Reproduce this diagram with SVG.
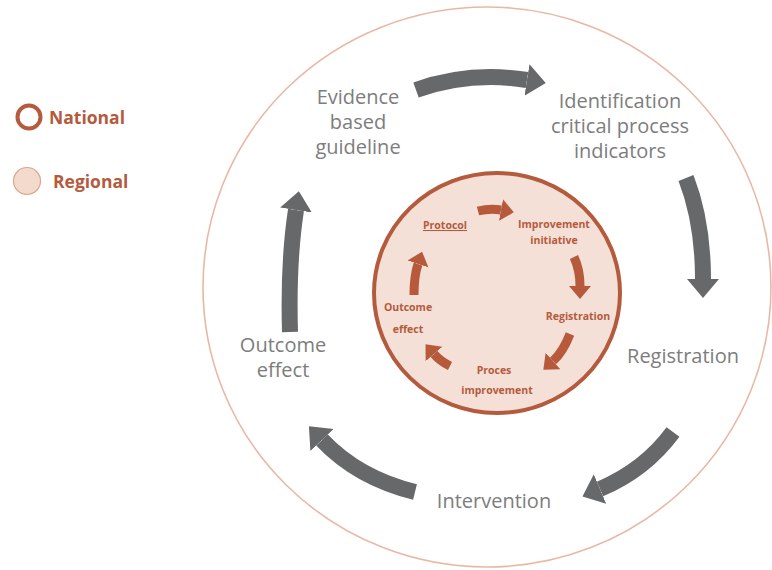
<svg xmlns="http://www.w3.org/2000/svg" width="772" height="570" viewBox="0 0 772 570">
  <style>
    .outer-label { font-family: "Open Sans", "Noto Sans", "DejaVu Sans", sans-serif; font-size: 20px; fill: #7d7d7d; text-anchor: middle; }
    .inner-label { font-family: "Open Sans", "Noto Sans", "DejaVu Sans", sans-serif; font-size: 10.5px; font-weight: bold; fill: #b45b3d; text-anchor: middle; }
    .legend-label { font-family: "Open Sans", "Noto Sans", "DejaVu Sans", sans-serif; font-size: 17.5px; font-weight: bold; fill: #b45b3d; }
    .grey-arrow { fill: none; stroke: #66686a; stroke-width: 16; stroke-linecap: butt; }
    .rust-arrow { fill: none; stroke: #b65a3b; stroke-width: 9; stroke-linecap: butt; }
  </style>
  <defs>
    <marker id="head-grey" markerUnits="userSpaceOnUse" markerWidth="22" markerHeight="34" refX="0" refY="17" orient="auto">
      <path d="M0,1 L19,17 L0,33 Z" fill="#66686a"/>
    </marker>
    <marker id="head-rust" markerUnits="userSpaceOnUse" markerWidth="14" markerHeight="24" refX="0" refY="12" orient="auto">
      <path d="M0,1 L13,12 L0,23 Z" fill="#b65a3b"/>
    </marker>
  </defs>

  <rect width="772" height="570" fill="#ffffff"/>

  <!-- legend -->
  <g id="legend">
    <g id="legend-national">
      <circle cx="29" cy="117" r="11.5" fill="none" stroke="#b45b3d" stroke-width="4"/>
      <text class="legend-label" x="49" y="124">National</text>
    </g>
    <g id="legend-regional">
      <circle cx="27" cy="181" r="13.5" fill="#f4dacd" stroke="#dba690" stroke-width="1.2"/>
      <text class="legend-label" x="53" y="188">Regional</text>
    </g>
  </g>

  <!-- national ring (outer) and regional disc (inner) -->
  <g id="ring-national">
    <ellipse cx="487" cy="287" rx="284" ry="280" fill="none" stroke="#e9b8a4" stroke-width="1.6"/>
  </g>
  <g id="disc-regional">
    <ellipse cx="497" cy="293" rx="123" ry="120" fill="#f4e0d6" stroke="#b45b3d" stroke-width="4"/>
  </g>

  <!-- outer cycle labels -->
  <g id="evidence">
    <text class="outer-label" x="358" y="104">Evidence</text>
    <text class="outer-label" x="358" y="129">based</text>
    <text class="outer-label" x="358" y="154">guideline</text>
  </g>
  <g id="identification">
    <text class="outer-label" x="620" y="108">Identification</text>
    <text class="outer-label" x="620" y="133">critical process</text>
    <text class="outer-label" x="620" y="158">indicators</text>
  </g>
  <g id="registration">
    <text class="outer-label" x="683" y="363">Registration</text>
  </g>
  <g id="intervention">
    <text class="outer-label" x="494" y="508">Intervention</text>
  </g>
  <g id="outcome">
    <text class="outer-label" x="283" y="352">Outcome</text>
    <text class="outer-label" x="283" y="377">effect</text>
  </g>

  <!-- inner cycle labels -->
  <g id="protocol">
    <text class="inner-label" x="445" y="229" text-decoration="underline">Protocol</text>
  </g>
  <g id="improvement-initiative">
    <text class="inner-label" x="554" y="228">Improvement</text>
    <text class="inner-label" x="554" y="244">initiative</text>
  </g>
  <g id="inner-registration">
    <text class="inner-label" x="578" y="320">Registration</text>
  </g>
  <g id="proces-improvement">
    <text class="inner-label" x="494" y="374">Proces</text>
    <text class="inner-label" x="497" y="394">improvement</text>
  </g>
  <g id="inner-outcome">
    <text class="inner-label" x="408" y="311">Outcome</text>
    <text class="inner-label" x="408" y="333">effect</text>
  </g>

  <!-- connectors -->
  <g id="connectors">
    <path class="grey-arrow" d="M416,90 Q470,71 527,80" marker-end="url(#head-grey)"/>
    <path class="grey-arrow" d="M686,178 Q703,222 703,279" marker-end="url(#head-grey)"/>
    <path class="grey-arrow" d="M673,432 Q645,470 600,489" marker-end="url(#head-grey)"/>
    <path class="grey-arrow" d="M415,492 Q358,478 322,440" marker-end="url(#head-grey)"/>
    <path class="grey-arrow" d="M290,332 Q288,262 296,210" marker-end="url(#head-grey)"/>

    <path class="rust-arrow" d="M478,211 Q490,208 501,210" marker-end="url(#head-rust)"/>
    <path class="rust-arrow" d="M574,257 Q580,270 580,286" marker-end="url(#head-rust)"/>
    <path class="rust-arrow" d="M570,334 Q563,352 553,361" marker-end="url(#head-rust)"/>
    <path class="rust-arrow" d="M450,366 Q440,361 434,354" marker-end="url(#head-rust)"/>
    <path class="rust-arrow" d="M414,295 Q414,276 418,264" marker-end="url(#head-rust)"/>
  </g>
</svg>
